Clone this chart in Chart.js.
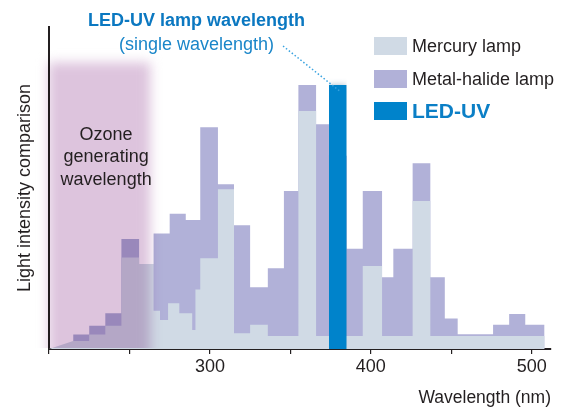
<!DOCTYPE html>
<html>
<head>
<meta charset="utf-8">
<title>Light intensity comparison</title>
<script src="https://cdn.jsdelivr.net/npm/chart.js@4.4.1/dist/chart.umd.min.js"></script>
<style>
  html, body { margin: 0; padding: 0; background: #fff; }
  #wrap { width: 579px; height: 410px; }
</style>
</head>
<body>
<div id="wrap"><canvas id="uvChart"></canvas></div>
<script>
// Wavelength bins (nm) and relative intensity
const mercuryRampNm = [200, 215];
const mercuryRampValues = [0, 2.5];
const mercuryEdges = [215, 225, 235, 245, 256, 265, 269, 274, 281, 289, 291, 294, 305, 315, 325, 336, 355, 366, 395, 407, 426, 437, 508];
const mercuryValues = [2.5, 4.5, 7.2, 28.4, 26.4, 11.9, 9.0, 14.2, 11.1, 5.9, 18.5, 28.2, 49.6, 4.9, 7.5, 4.0, 73.9, 4.0, 25.8, 4.0, 46.0, 4.0];

const metalEdges = [215, 225, 235, 245, 256, 265, 275, 285, 294, 305, 315, 325, 336, 346, 355, 366, 374, 385, 395, 407, 414, 426, 437, 446, 454, 476, 486, 496, 508];
const metalValues = [4.5, 7.2, 11.1, 34.2, 26.4, 35.9, 42.0, 40.1, 68.9, 51.2, 38.4, 19.2, 25.1, 49.1, 82.0, 69.8, 60.0, 31.1, 49.1, 22.3, 31.1, 57.7, 22.3, 9.5, 4.6, 7.5, 10.9, 7.5];

const ledEdges = [374, 385];
const ledValues = [82.0];

const ozoneRangeNm = [199.5, 263];
const ozoneTop = 89;

const xTicks = [300, 400, 500];

const FONT = "'Liberation Sans', Arial, Helvetica, sans-serif";
const TEXT = '#231f20';
const MERCURY = '#d0dae5';
const METAL = '#b1b1d8';
const LED = '#0083cb';

// turn bins into corner points for a filled step outline
function stepPoints(edges, values) {
    const pts = [];
    values.forEach((v, i) => {
        pts.push({ x: edges[i], y: v });
        pts.push({ x: edges[i + 1], y: v });
    });
    return pts;
}

const mercuryPoints = mercuryRampNm.map((x, i) => ({ x: x, y: mercuryRampValues[i] }))
    .concat(stepPoints(mercuryEdges, mercuryValues));

// glow round the LED bar: switched on after mercury is drawn, off after LED
const ledGlow = {
    id: 'ledGlow',
    afterDatasetDraw(chart, args) {
        const ctx = chart.ctx;
        if (args.index === 0) {
            ctx.save();
            ctx.shadowColor = 'rgba(40, 90, 130, 0.4)';
            ctx.shadowBlur = 6;
        } else if (args.index === 2) {
            ctx.restore();
        }
    }
};

// soft pink band for the ozone generating range
const ozoneBand = {
    id: 'ozoneBand',
    afterDatasetsDraw(chart) {
        const { ctx, chartArea, scales: { x, y } } = chart;
        const left = x.getPixelForValue(ozoneRangeNm[0]);
        const right = x.getPixelForValue(ozoneRangeNm[1]);
        const top = y.getPixelForValue(ozoneTop);
        ctx.save();
        ctx.beginPath();
        ctx.rect(0, 0, chart.width, chartArea.bottom - 1);
        ctx.clip();
        ctx.globalCompositeOperation = 'multiply';
        ctx.filter = 'blur(6px)';
        ctx.fillStyle = 'rgb(221, 196, 221)';
        ctx.fillRect(left, top, right - left, chartArea.bottom + 20 - top);
        ctx.restore();

        ctx.save();
        ctx.fillStyle = TEXT;
        ctx.font = '18px ' + FONT;
        ctx.textAlign = 'center';
        ctx.textBaseline = 'alphabetic';
        const cx = x.getPixelForValue(235.5);
        ['Ozone', 'generating', 'wavelength'].forEach((line, i) => {
            ctx.fillText(line, cx, 139.5 + i * 22.5);
        });
        ctx.restore();
    }
};

// headings, leader line and the legend
const annotations = {
    id: 'annotations',
    afterDraw(chart) {
        const { ctx, scales: { x, y } } = chart;
        ctx.save();
        ctx.textAlign = 'center';
        ctx.textBaseline = 'alphabetic';
        ctx.fillStyle = '#0b78c1';
        ctx.font = 'bold 18px ' + FONT;
        ctx.fillText('LED-UV lamp wavelength', 196.5, 25.5);
        ctx.fillStyle = '#1a86c9';
        ctx.font = '18px ' + FONT;
        ctx.fillText('(single wavelength)', 196.5, 50);
        const subW = ctx.measureText('(single wavelength)').width;

        ctx.strokeStyle = '#3aa3e0';
        ctx.lineWidth = 1.5;
        ctx.setLineDash([1.5, 2.2]);
        ctx.beginPath();
        ctx.moveTo(196.5 + subW / 2 + 9, 46);
        ctx.lineTo(x.getPixelForValue((ledEdges[0] + ledEdges[1]) / 2) + 3, y.getPixelForValue(ledValues[0]) + 7);
        ctx.stroke();
        ctx.setLineDash([]);

        const rows = [
            { ds: 0, cy: 46, font: '18px ' + FONT, color: TEXT },
            { ds: 1, cy: 79, font: '18px ' + FONT, color: TEXT },
            { ds: 2, cy: 111, font: 'bold 21px ' + FONT, color: '#0b7fc6' }
        ];
        ctx.textAlign = 'left';
        ctx.textBaseline = 'middle';
        rows.forEach(r => {
            const ds = chart.data.datasets[r.ds];
            ctx.fillStyle = ds.backgroundColor;
            ctx.fillRect(374, r.cy - 9, 33, 18);
            ctx.fillStyle = r.color;
            ctx.font = r.font;
            ctx.fillText(ds.label, 412, r.cy + 1);
        });
        ctx.restore();
    }
};

new Chart(document.getElementById('uvChart'), {
    type: 'line',
    data: {
        datasets: [
            {
                label: 'Mercury lamp',
                data: mercuryPoints,
                backgroundColor: MERCURY,
                fill: 'origin',
                order: 1
            },
            {
                label: 'Metal-halide lamp',
                data: stepPoints(metalEdges, metalValues),
                backgroundColor: METAL,
                fill: 'origin',
                order: 2
            },
            {
                label: 'LED-UV',
                data: stepPoints(ledEdges, ledValues),
                backgroundColor: LED,
                fill: 'origin',
                order: 0
            }
        ]
    },
    options: {
        responsive: true,
        maintainAspectRatio: false,
        animation: false,
        devicePixelRatio: 1,
        layout: { padding: { top: 27, right: 28, left: 0, bottom: 0 } },
        elements: {
            line: { borderWidth: 0, tension: 0 },
            point: { radius: 0, hoverRadius: 0 }
        },
        plugins: {
            legend: { display: false },
            tooltip: { enabled: false }
        },
        scales: {
            x: {
                type: 'linear',
                min: 200,
                max: 512,
                afterFit: s => { s.height = 61; },
                grid: { drawOnChartArea: false, drawTicks: true, tickLength: 5, color: TEXT, lineWidth: 1.2 },
                border: { color: TEXT, width: 2 },
                ticks: {
                    stepSize: 50,
                    includeBounds: false,
                    autoSkip: false,
                    maxRotation: 0,
                    padding: 2,
                    color: TEXT,
                    font: { family: FONT, size: 18 },
                    callback: v => xTicks.includes(v) ? String(v) : ''
                },
                title: {
                    display: true,
                    text: 'Wavelength (nm)',
                    align: 'end',
                    color: TEXT,
                    font: { family: FONT, size: 17.5 },
                    padding: { top: 0, bottom: 1.5 }
                }
            },
            y: {
                min: 0,
                max: 100,
                afterFit: s => { s.width = 49; },
                grid: { display: false },
                border: { color: TEXT, width: 2 },
                ticks: { display: false },
                title: {
                    display: true,
                    text: 'Light intensity comparison',
                    color: TEXT,
                    font: { family: FONT, size: 18 },
                    padding: { top: 14, bottom: 0 }
                }
            }
        }
    },
    plugins: [ledGlow, ozoneBand, annotations]
});
</script>
</body>
</html>
